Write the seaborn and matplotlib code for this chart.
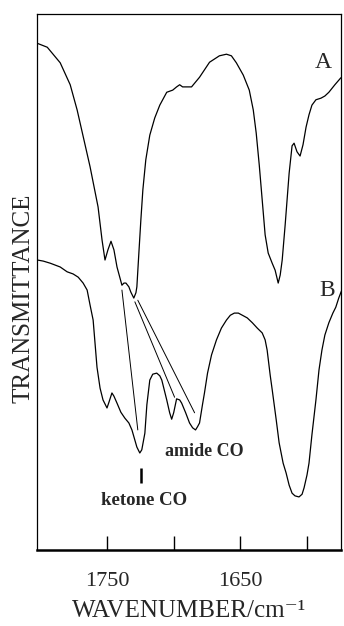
import numpy as np
import pandas as pd
import matplotlib
matplotlib.use("Agg")
import matplotlib.pyplot as plt
import seaborn as sns

# ---- data (wavenumber cm-1, transmittance arbitrary %) ----
wn_A = [1803.0, 1794.8, 1785.1, 1777.6, 1772.4, 1762.7, 1756.7, 1753.7, 1751.5, 1749.3,
        1747.0, 1744.8, 1742.5, 1738.8, 1737.3, 1735.8, 1733.6, 1732.1, 1729.9, 1728.3,
        1727.6, 1726.1, 1724.6, 1723.1, 1720.9, 1717.9, 1714.2, 1710.4, 1705.2, 1700.7,
        1697.8, 1695.5, 1693.3, 1686.6, 1680.6, 1673.1, 1665.7, 1660.4, 1656.7, 1653.0,
        1647.8, 1643.3, 1640.3, 1638.1, 1635.8, 1633.6, 1631.4, 1629.1, 1626.1, 1623.9,
        1621.6, 1620.1, 1618.6, 1616.4, 1613.4, 1611.2, 1609.7, 1607.5, 1605.2, 1603.0,
        1600.7, 1598.5, 1596.3, 1593.3, 1589.5, 1586.6, 1583.6, 1579.1, 1574.6]
T_A = [94.6, 93.8, 90.9, 86.8, 82.1, 71.5, 64.0, 57.8, 54.1, 56.0,
       57.6, 56.0, 52.8, 49.4, 49.8, 49.8, 49.1, 48.1, 47.0, 48.0,
       49.1, 55.4, 61.6, 67.2, 72.8, 77.4, 80.6, 83.0, 85.4, 85.8,
       86.4, 86.8, 86.4, 86.4, 88.2, 91.0, 92.2, 92.5, 92.2, 90.9,
       88.6, 85.8, 82.1, 77.8, 71.8, 65.3, 58.8, 55.4, 53.5, 52.2,
       49.8, 51.3, 54.1, 60.6, 70.3, 75.4, 75.9, 74.3, 73.5, 75.6,
       78.9, 81.2, 83.0, 84.0, 84.3, 84.7, 85.4, 86.8, 88.1]

wn_B = [1802.2, 1797.8, 1792.5, 1785.1, 1779.9, 1775.4, 1771.6, 1767.9, 1764.9, 1762.7,
        1760.4, 1757.5, 1755.2, 1753.0, 1750.0, 1748.5, 1746.3, 1744.8, 1742.5, 1739.6,
        1736.6, 1733.6, 1731.3, 1729.1, 1727.6, 1725.4, 1723.9, 1721.6, 1720.1, 1717.9,
        1715.7, 1712.7, 1710.4, 1708.9, 1706.7, 1705.2, 1703.0, 1701.5, 1700.0, 1697.8,
        1695.5, 1694.0, 1691.0, 1688.1, 1685.8, 1683.6, 1682.1, 1680.6, 1678.4, 1676.9,
        1674.6, 1671.6, 1667.9, 1664.2, 1660.4, 1657.5, 1654.5, 1651.5, 1648.5, 1644.8,
        1641.0, 1637.3, 1633.6, 1631.4, 1629.9, 1627.6, 1626.1, 1623.1, 1620.9, 1617.9,
        1615.7, 1613.4, 1611.2, 1609.0, 1606.0, 1603.7, 1602.2, 1600.0, 1598.5, 1596.3,
        1593.3, 1591.0, 1588.8, 1586.6, 1583.6, 1580.6, 1578.4, 1576.2, 1573.9]
T_B = [54.1, 53.9, 53.5, 52.8, 51.9, 51.5, 50.9, 49.8, 48.5, 45.7,
       42.9, 34.1, 30.2, 28.0, 26.5, 27.6, 29.3, 28.7, 27.4, 25.7,
       24.6, 23.7, 22.4, 20.5, 19.2, 18.1, 18.7, 21.8, 27.1, 31.7,
       32.8, 33.0, 32.5, 31.7, 29.5, 28.0, 25.6, 24.4, 25.6, 28.2,
       28.0, 27.4, 25.6, 23.7, 22.8, 22.4, 23.0, 23.7, 27.1, 29.3,
       33.0, 36.4, 39.2, 41.4, 42.9, 43.8, 44.2, 44.2, 43.8, 43.3,
       42.4, 41.4, 40.5, 39.2, 37.3, 32.6, 29.9, 24.3, 20.0, 16.2,
       14.4, 12.1, 10.6, 10.1, 9.9, 10.4, 11.6, 14.0, 16.2, 21.5,
       28.0, 33.6, 37.3, 40.1, 42.4, 44.2, 45.3, 47.0, 48.5]

# correlation lines linking peaks of A to peaks of B
link_x0 = [1738.8, 1729.1, 1726.9]
link_y0 = [48.5, 46.3, 46.6]
link_x1 = [1726.9, 1699.3, 1684.3]
link_y1 = [22.4, 28.5, 25.6]

tick_values = [1750, 1700, 1650, 1600]
tick_labels = ["1750", "", "1650", ""]

# ---- figure ----
sns.set_theme(style="white")
plt.rcParams['font.family'] = ['Liberation Serif', 'DejaVu Serif']

fig = plt.figure(figsize=(3.44, 6.26), dpi=100)
ax = fig.add_axes([37/344, 1 - 550/626, (341 - 37)/344, (550 - 14)/626])

dfA = pd.DataFrame({"wn": wn_A, "T": T_A})
dfB = pd.DataFrame({"wn": wn_B, "T": T_B})
sns.lineplot(data=dfA, x="wn", y="T", sort=False, color="black", lw=0.9, ax=ax)
sns.lineplot(data=dfB, x="wn", y="T", sort=False, color="black", lw=0.9, ax=ax)

for x0, y0, x1, y1 in zip(link_x0, link_y0, link_x1, link_y1):
    ax.plot([x0, x1], [y0, y1], color="black", lw=0.7)

# ketone marker bar
ax.plot([1724.6, 1724.6], [12.5, 15.3], color="black", lw=1.8, solid_capstyle="butt")

ax.set_xlim(1802.5, 1574.5)
ax.set_ylim(0, 100)

ax.set_xticks(tick_values)
ax.set_xticklabels(tick_labels)
ax.set_yticks([])
ax.tick_params(axis="x", direction="in", length=10, width=1.0, pad=16,
               labelsize=16, color="black", bottom=True, top=False)

for side in ["left", "top", "right"]:
    ax.spines[side].set_linewidth(0.9)
    ax.spines[side].set_color("black")
ax.spines["bottom"].set_linewidth(1.8)
ax.spines["bottom"].set_color("black")

ax.set_xlabel("WAVENUMBER/cm\u207B\u00B9", fontsize=18, labelpad=6)
ax.set_ylabel("TRANSMITTANCE", fontsize=18)
ax.yaxis.set_label_coords(-0.009, 0.47)

ax.text(1588.0, 90.9, "A", fontsize=17, ha="center", va="center")
ax.text(1585.0, 48.5, "B", fontsize=17, ha="center", va="center")
ax.text(1677.3, 18.3, "amide CO", fontsize=13, fontweight="bold", ha="center", va="center")
ax.text(1722.4, 9.3, "ketone CO", fontsize=13.5, fontweight="bold", ha="center", va="center")

fig.savefig("out.png", dpi=100)
